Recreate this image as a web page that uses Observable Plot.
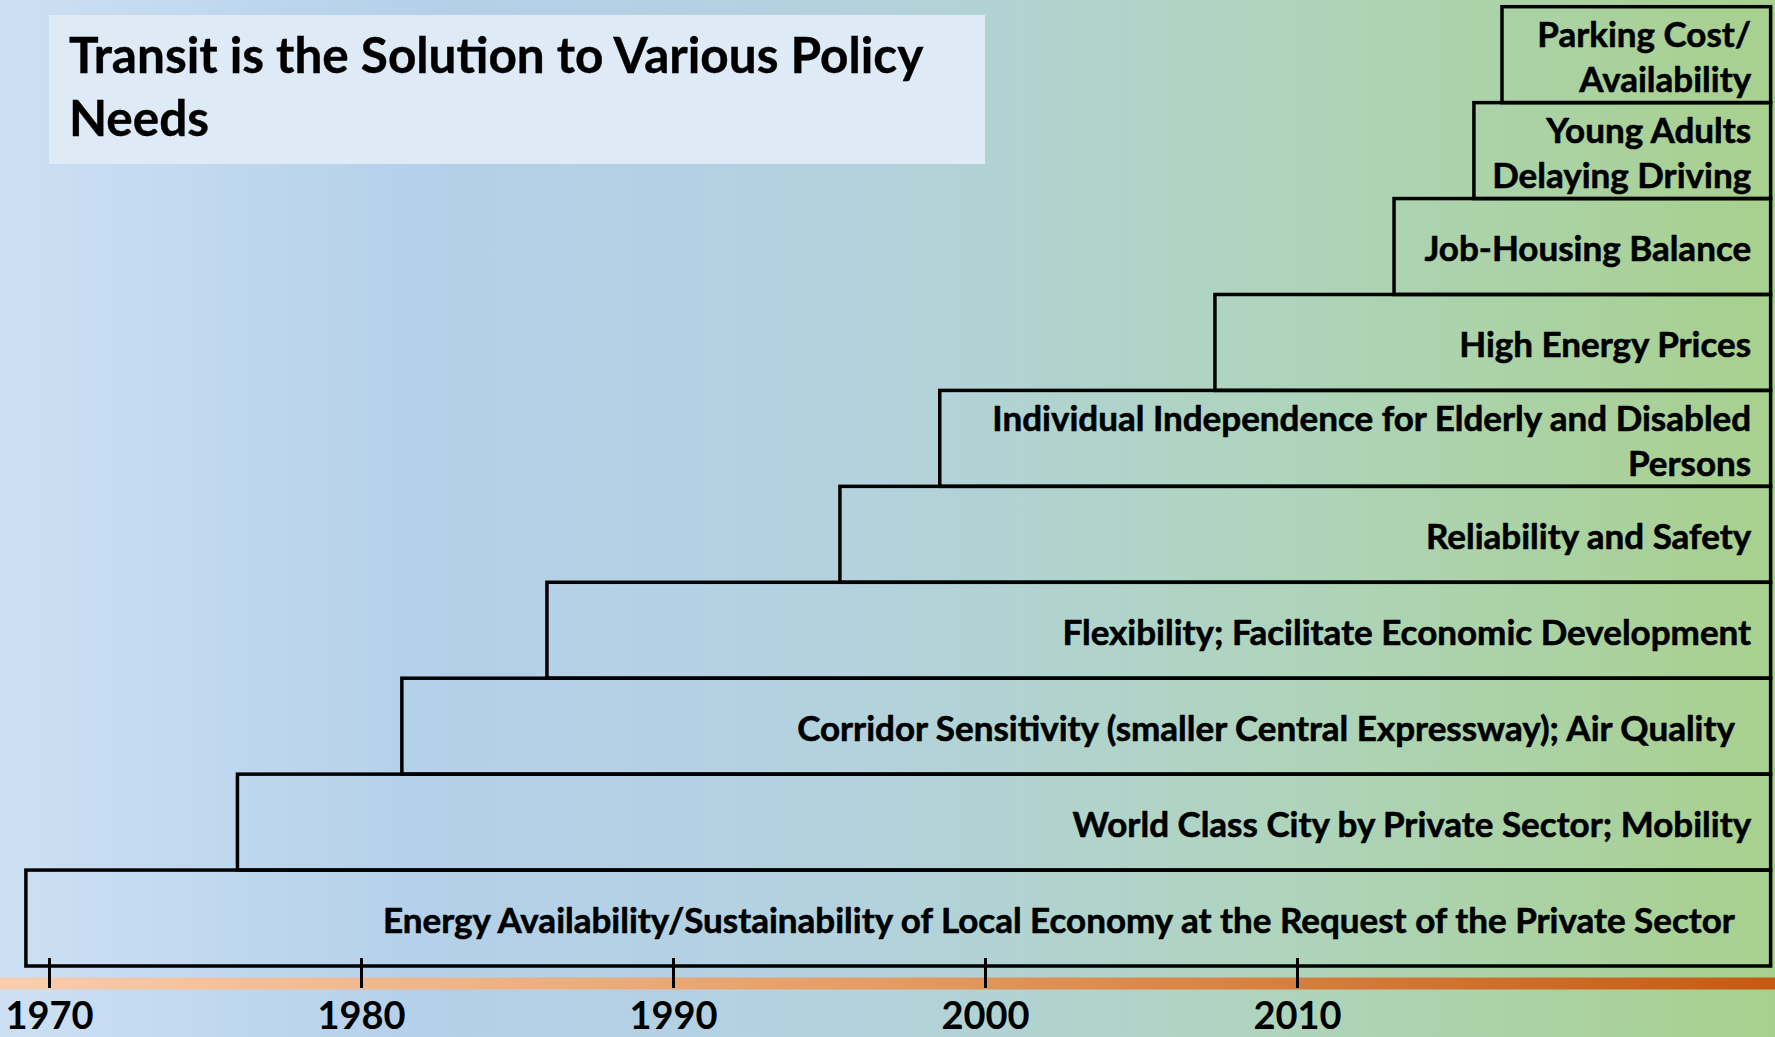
<!DOCTYPE html>
<html>
<head>
<meta charset="utf-8">
<script src="https://cdn.jsdelivr.net/npm/d3@7"></script>
<script src="https://cdn.jsdelivr.net/npm/@observablehq/plot@0.6"></script>
<style>
  html, body { margin: 0; padding: 0; }
  body {
    width: 1775px; height: 1037px; overflow: hidden;
    background: linear-gradient(to right, #cde0f3 0%, #b4d0ea 24%, #b3d2de 48%, #aed4bd 72%, #a8d08d 100%);
    font-family: Lato, "Open Sans", sans-serif;
  }
  #wrap { position: relative; width: 1775px; height: 1037px; }
  #chart { position: absolute; left: 0; top: 0; }
  #title {
    position: absolute; left: 49px; top: 15px; width: 936px; height: 149px;
    box-sizing: border-box; padding: 8px 0 0 20px;
    background: #deeaf6; color: #000;
    font-family: Lato, sans-serif; font-weight: 700; font-size: 49.5px; line-height: 63px;
    white-space: nowrap; -webkit-text-stroke: 0.4px #000;
  }
</style>
</head>
<body>
<div id="wrap">
  <div id="chart"></div>
  <div id="title">Transit is the Solution to Various Policy<br>Needs</div>
</div>
<script>
// Policy needs, from the bottom step to the top step
const needs = [
  "Energy Availability/Sustainability of Local Economy at the Request of the Private Sector\u00a0\u00a0",
  "World Class City by Private Sector; Mobility",
  "Corridor Sensitivity (smaller Central Expressway); Air Quality\u00a0\u00a0",
  "Flexibility; Facilitate Economic Development",
  "Reliability and Safety",
  "Individual Independence for Elderly and Disabled\nPersons",
  "High Energy Prices",
  "Job-Housing Balance",
  "Young Adults\nDelaying Driving",
  "Parking Cost/\nAvailability"
];
// Year in which each need begins (left edge of each step)
const startYears = [1969.26, 1976.04, 1981.31, 1985.96, 1995.35, 1998.55, 2007.37, 2013.11, 2015.67, 2016.57];
// Step levels (stacking order)
const levels = [0, 1, 2, 3, 4, 5, 6, 7, 8, 9];
// All steps continue to the present
const endYear = 2025.18;
// Timeline tick labels
const tickYears = [1970, 1980, 1990, 2000, 2010];

const table = needs.map((label, i) => ({label, start: startYears[i], level: levels[i]}));

const defs = () => {
  const g = d3.create("svg:defs");
  const lg = g.append("linearGradient")
    .attr("id", "timeline-grad")
    .attr("gradientUnits", "userSpaceOnUse")
    .attr("x1", 0).attr("x2", 1775).attr("y1", 0).attr("y2", 0);
  lg.append("stop").attr("offset", "0%").attr("stop-color", "#f9cdad");
  lg.append("stop").attr("offset", "50%").attr("stop-color", "#e69b62");
  lg.append("stop").attr("offset", "100%").attr("stop-color", "#c55a11");
  return g.node();
};

const chart = Plot.plot({
  width: 1775,
  height: 1037,
  marginLeft: 0,
  marginRight: 0,
  marginTop: 0,
  marginBottom: 79,
  x: {domain: [1968.43, 2025.32]},
  y: {domain: [0, 10], range: [966, 6.7], axis: null},
  style: {background: "none", fontFamily: "Lato, sans-serif", color: "#000", overflow: "visible"},
  marks: [
    defs,
    Plot.ruleY([0], {dy: 17, stroke: "url(#timeline-grad)", strokeWidth: 12}),
    Plot.rect(table, {
      x1: "start", x2: () => endYear,
      y1: "level", y2: d => d.level + 1,
      fill: "none", stroke: "#000", strokeWidth: 3.5
    }),
    Plot.text(table, {
      x: () => endYear, y: d => d.level + 0.5, text: "label",
      textAnchor: "end", dx: -20, lineAnchor: "middle", lineHeight: 1.28,
      fontSize: 35, fontWeight: "bold", fill: "#000",
      stroke: "#000", strokeWidth: 0.6
    }),
    Plot.axisX({
      anchor: "bottom", ticks: tickYears, tickFormat: d => String(d),
      tickSize: 30, tickPadding: 14, strokeWidth: 3,
      fontSize: 38, fontWeight: "bold", label: null, fill: "#000", stroke: "#000"
    })
  ]
});
document.getElementById("chart").appendChild(chart);
</script>
</body>
</html>
